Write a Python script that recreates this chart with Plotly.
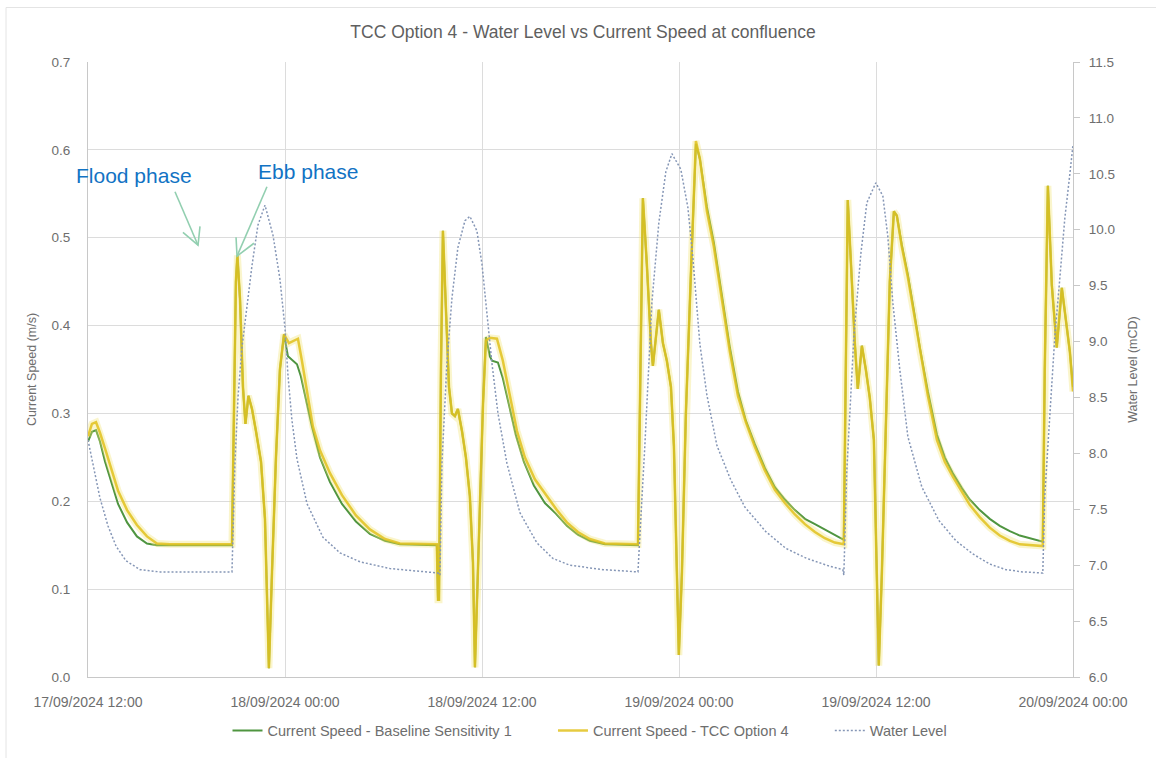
import pandas as pd
import plotly.graph_objects as go

# Time axis: hours elapsed since 17/09/2024 12:00
START = pd.Timestamp("2024-09-17 12:00")

# Water level (mCD)
wl_hours = [0.00, 0.37, 0.73, 1.22, 1.71, 2.31, 3.17, 4.38, 6.82, 8.77,
            8.95, 9.14, 9.38, 9.68, 9.99, 10.35, 10.78, 11.27, 11.69, 12.00,
            12.18, 12.42, 12.73, 13.34, 14.31, 15.35, 16.57, 18.39, 21.32, 21.44,
            21.56, 21.86, 22.17, 22.53, 22.96, 23.26, 23.69, 24.00, 24.30, 24.61,
            24.97, 25.52, 26.31, 27.34, 28.32, 29.35, 31.36, 33.50, 33.62, 33.92,
            34.35, 34.77, 35.20, 35.57, 36.11, 36.54, 36.85, 37.27, 37.70, 38.31,
            39.16, 40.01, 41.29, 42.51, 43.79, 45.19, 45.98, 46.04, 46.22, 46.65,
            47.08, 47.44, 47.99, 48.42, 48.72, 49.03, 49.45, 49.94, 50.79, 51.83,
            52.86, 53.90, 54.93, 55.91, 56.94, 58.16, 58.28, 58.59, 58.89, 59.20,
            59.50, 59.81, 60.00]
water_level = [8.12, 7.85, 7.60, 7.35, 7.17, 7.04, 6.96, 6.94, 6.94, 6.94,
               7.91, 8.51, 8.95, 9.30, 9.68, 10.04, 10.22, 9.95, 9.56, 9.12,
               8.70, 8.30, 7.95, 7.55, 7.25, 7.11, 7.03, 6.97, 6.93, 6.91,
               7.91, 8.80, 9.39, 9.84, 10.08, 10.12, 9.99, 9.69, 9.24, 8.80,
               8.36, 7.91, 7.47, 7.20, 7.06, 7.00, 6.96, 6.94, 7.27, 8.07,
               9.35, 10.06, 10.52, 10.68, 10.54, 10.20, 9.74, 8.98, 8.52, 8.07,
               7.76, 7.52, 7.30, 7.15, 7.06, 6.99, 6.96, 6.91, 7.84, 9.04,
               9.79, 10.24, 10.42, 10.30, 9.94, 9.34, 8.75, 8.15, 7.70, 7.40,
               7.22, 7.10, 7.01, 6.96, 6.94, 6.93, 7.62, 8.33, 9.04, 9.57,
               10.10, 10.50, 10.76]

# Current speed - TCC Option 4 (m/s)
tcc_hours = [0.00, 0.24, 0.49, 0.73, 1.04, 1.40, 1.83, 2.38, 2.98, 3.59,
             4.20, 4.99, 8.77, 8.89, 9.01, 9.10, 9.26, 9.44, 9.59, 9.77,
             9.99, 10.23, 10.54, 10.78, 10.90, 11.02, 11.21, 11.45, 11.69, 11.94,
             12.24, 12.55, 12.79, 13.03, 13.34, 13.70, 14.13, 14.74, 15.47, 16.32,
             17.17, 18.09, 19.00, 21.25, 21.32, 21.38, 21.50, 21.62, 21.80, 21.99,
             22.17, 22.35, 22.53, 22.78, 23.02, 23.26, 23.45, 23.57, 23.75, 23.87,
             24.06, 24.24, 24.48, 24.91, 25.27, 25.70, 26.13, 26.61, 27.22, 27.95,
             28.56, 29.17, 29.84, 30.57, 31.49, 33.50, 33.62, 33.80, 34.04, 34.29,
             34.41, 34.59, 34.77, 35.02, 35.26, 35.51, 35.69, 35.87, 35.99, 36.18,
             36.42, 36.72, 37.03, 37.27, 37.70, 38.12, 38.61, 39.10, 39.59, 40.07,
             40.62, 41.23, 41.84, 42.45, 43.06, 43.67, 44.28, 44.88, 45.49, 46.04,
             46.16, 46.28, 46.53, 46.71, 46.89, 47.14, 47.38, 47.62, 47.87, 48.05,
             48.17, 48.36, 48.60, 48.84, 49.09, 49.27, 49.57, 49.94, 50.30, 50.67,
             51.16, 51.71, 52.19, 52.68, 53.23, 53.71, 54.32, 54.93, 55.54, 56.15,
             56.76, 58.16, 58.28, 58.47, 58.71, 59.01, 59.32, 59.56, 59.81, 60.00]
tcc_speed = [0.274, 0.288, 0.290, 0.278, 0.260, 0.238, 0.212, 0.190, 0.173, 0.160,
             0.152, 0.151, 0.151, 0.300, 0.450, 0.480, 0.430, 0.330, 0.288, 0.320,
             0.305, 0.280, 0.245, 0.180, 0.090, 0.010, 0.120, 0.250, 0.350, 0.390,
             0.380, 0.383, 0.385, 0.360, 0.325, 0.285, 0.258, 0.232, 0.207, 0.184,
             0.168, 0.157, 0.152, 0.151, 0.088, 0.088, 0.350, 0.508, 0.420, 0.330,
             0.300, 0.297, 0.305, 0.280, 0.250, 0.206, 0.130, 0.011, 0.120, 0.206,
             0.310, 0.383, 0.386, 0.385, 0.360, 0.320, 0.280, 0.250, 0.225, 0.206,
             0.190, 0.176, 0.165, 0.157, 0.152, 0.151, 0.300, 0.545, 0.470, 0.380,
             0.354, 0.390, 0.418, 0.380, 0.360, 0.330, 0.263, 0.120, 0.025, 0.120,
             0.300, 0.457, 0.610, 0.590, 0.530, 0.490, 0.430, 0.370, 0.320, 0.290,
             0.262, 0.235, 0.213, 0.198, 0.185, 0.174, 0.165, 0.158, 0.153, 0.151,
             0.350, 0.543, 0.450, 0.380, 0.328, 0.377, 0.350, 0.318, 0.270, 0.120,
             0.013, 0.120, 0.300, 0.450, 0.530, 0.525, 0.490, 0.455, 0.415, 0.372,
             0.320, 0.270, 0.245, 0.228, 0.210, 0.196, 0.182, 0.170, 0.161, 0.155,
             0.151, 0.149, 0.350, 0.559, 0.446, 0.375, 0.443, 0.410, 0.370, 0.325]

# Current speed - Baseline Sensitivity 1 (m/s)
base_hours = [0.00, 0.24, 0.49, 0.73, 1.04, 1.40, 1.83, 2.38, 2.98, 3.59,
              4.20, 8.77, 8.89, 9.01, 9.10, 9.26, 9.44, 9.59, 9.77, 9.99,
              10.23, 10.54, 10.78, 10.90, 11.02, 11.21, 11.45, 11.69, 11.94, 12.18,
              12.48, 12.73, 12.97, 13.28, 13.64, 14.13, 14.74, 15.47, 16.32, 17.17,
              18.09, 19.00, 21.25, 21.32, 21.38, 21.50, 21.62, 21.80, 21.99, 22.17,
              22.35, 22.53, 22.78, 23.02, 23.26, 23.45, 23.57, 23.75, 23.87, 24.06,
              24.24, 24.48, 24.61, 24.97, 25.27, 25.64, 26.07, 26.55, 27.16, 27.83,
              28.50, 29.17, 29.84, 30.57, 31.49, 33.50, 33.62, 33.80, 34.04, 34.29,
              34.41, 34.59, 34.77, 35.02, 35.26, 35.51, 35.69, 35.87, 35.99, 36.18,
              36.42, 36.72, 37.03, 37.27, 37.70, 38.12, 38.61, 39.10, 39.59, 40.07,
              40.62, 41.23, 41.84, 42.45, 43.06, 43.67, 44.28, 44.88, 45.49, 46.04,
              46.16, 46.28, 46.53, 46.71, 46.89, 47.14, 47.38, 47.62, 47.87, 48.05,
              48.17, 48.36, 48.60, 48.84, 49.09, 49.27, 49.57, 49.94, 50.30, 50.67,
              51.16, 51.71, 52.19, 52.68, 53.23, 53.71, 54.32, 54.93, 55.54, 56.15,
              56.76, 57.37, 58.16, 58.28, 58.47, 58.71, 59.01, 59.32, 59.56, 59.81,
              60.00]
base_speed = [0.268, 0.279, 0.281, 0.268, 0.245, 0.222, 0.197, 0.176, 0.160, 0.152,
              0.150, 0.150, 0.300, 0.450, 0.480, 0.430, 0.330, 0.288, 0.320, 0.305,
              0.280, 0.245, 0.180, 0.090, 0.010, 0.120, 0.250, 0.350, 0.390, 0.365,
              0.360, 0.356, 0.342, 0.315, 0.285, 0.250, 0.222, 0.197, 0.177, 0.163,
              0.155, 0.151, 0.150, 0.088, 0.088, 0.350, 0.508, 0.420, 0.330, 0.300,
              0.297, 0.305, 0.280, 0.250, 0.206, 0.130, 0.011, 0.120, 0.206, 0.310,
              0.387, 0.365, 0.360, 0.358, 0.340, 0.310, 0.275, 0.245, 0.218, 0.198,
              0.186, 0.172, 0.162, 0.155, 0.151, 0.150, 0.300, 0.545, 0.470, 0.380,
              0.354, 0.390, 0.418, 0.380, 0.360, 0.330, 0.263, 0.120, 0.025, 0.120,
              0.300, 0.457, 0.607, 0.590, 0.535, 0.495, 0.435, 0.375, 0.325, 0.292,
              0.265, 0.238, 0.216, 0.202, 0.190, 0.180, 0.174, 0.168, 0.161, 0.156,
              0.350, 0.543, 0.450, 0.380, 0.328, 0.377, 0.350, 0.318, 0.270, 0.120,
              0.013, 0.120, 0.300, 0.450, 0.530, 0.525, 0.492, 0.458, 0.418, 0.375,
              0.325, 0.276, 0.250, 0.232, 0.215, 0.202, 0.190, 0.180, 0.172, 0.166,
              0.161, 0.158, 0.154, 0.350, 0.559, 0.446, 0.375, 0.443, 0.410, 0.370,
              0.330]

TITLE = "TCC Option 4 - Water Level vs Current Speed at confluence"
NAME_BASE = "Current Speed - Baseline Sensitivity 1"
NAME_TCC = "Current Speed - TCC Option 4"
NAME_WL = "Water Level"

GAP = "\u00a0" * 9  # spacing between legend entries


def to_time(hours):
    return START + pd.to_timedelta(hours, unit="h")


GREEN = "#4f9540"
YELLOW = "#e2c21e"
WL_COLOR = "#8596b6"
GRID = "#dcdcdc"
TEXT = "#6e6e6e"
FONT = "Liberation Sans, Arial, sans-serif"

fig = go.Figure()

fig.add_trace(go.Scatter(
    x=to_time(base_hours), y=base_speed, name=NAME_BASE + GAP, mode="lines",
    line=dict(color=GREEN, width=2)))
# soft halo under the TCC series
fig.add_trace(go.Scatter(
    x=to_time(tcc_hours), y=tcc_speed, mode="lines", showlegend=False,
    hoverinfo="skip", line=dict(color="rgba(240,225,110,0.35)", width=7)))
fig.add_trace(go.Scatter(
    x=to_time(tcc_hours), y=tcc_speed, name=NAME_TCC + GAP, mode="lines",
    opacity=0.85, line=dict(color=YELLOW, width=2.5)))
fig.add_trace(go.Scatter(
    x=to_time(wl_hours), y=water_level, name=NAME_WL, mode="lines",
    yaxis="y2", line=dict(color=WL_COLOR, width=1.5, dash="2px,2px")))

# plot-area geometry (pixels) used for placing the callouts
L, R, T, B = 88, 83, 62, 75
W, H = 1156, 758
PW, PH = W - L - R, H - T - B


def px(xp, yp):
    return (xp - L) / PW, (H - B - yp) / PH


def seg_path(points):
    pts = [px(*p) for p in points]
    return "M " + " L ".join(f"{a:.4f},{b:.4f}" for a, b in pts)


ARROW = "#92cfb0"
shapes = [
    # outer chart frame
    dict(type="rect", xref="paper", yref="paper",
         x0=px(6, 0)[0], x1=px(1170, 0)[0], y0=px(0, 790)[1], y1=px(0, 7)[1],
         line=dict(color="#e4e4e4", width=1), layer="below"),
    # flood phase arrow
    dict(type="path", xref="paper", yref="paper",
         path=seg_path([(175, 193), (198, 247)]), line=dict(color=ARROW, width=1.6)),
    dict(type="path", xref="paper", yref="paper",
         path=seg_path([(183, 234), (198, 247), (200, 228)]), line=dict(color=ARROW, width=1.6)),
    # ebb phase arrow
    dict(type="path", xref="paper", yref="paper",
         path=seg_path([(267, 188), (237, 258)]), line=dict(color=ARROW, width=1.6)),
    dict(type="path", xref="paper", yref="paper",
         path=seg_path([(236, 239), (237, 258), (254, 245)]), line=dict(color=ARROW, width=1.6)),
]

fx, fy = px(74, 177)
ex, ey = px(256, 173)
annotations = [
    dict(text="Flood phase", xref="paper", yref="paper", x=fx, y=fy,
         xanchor="left", yanchor="middle", showarrow=False,
         font=dict(family=FONT, size=21, color="#1273c4")),
    dict(text="Ebb phase", xref="paper", yref="paper", x=ex, y=ey,
         xanchor="left", yanchor="middle", showarrow=False,
         font=dict(family=FONT, size=21, color="#1273c4")),
]

fig.update_layout(
    width=W, height=H,
    margin=dict(l=L, r=R, t=T, b=B, pad=0),
    paper_bgcolor="white", plot_bgcolor="white",
    font=dict(family=FONT, size=13, color=TEXT),
    title=dict(text=TITLE, x=(583 / W), xanchor="center", y=1 - 32 / H, yanchor="middle",
               font=dict(family=FONT, size=17.5, color="#5f5f5f")),
    showlegend=True,
    legend=dict(orientation="h", x=(590 - L) / PW, xanchor="center",
                y=-(737 - 683) / PH, yanchor="middle",
                font=dict(size=14.5, color=TEXT), bgcolor="rgba(0,0,0,0)"),
    xaxis=dict(type="date", range=[START, START + pd.Timedelta(hours=60)],
               dtick=12 * 3600 * 1000, tick0=START, tickformat="%d/%m/%Y %H:%M",
               showgrid=True, gridcolor=GRID, gridwidth=1,
               showline=True, linecolor="#c8c8c8", ticks="", zeroline=False,
               ticklabelstandoff=12,
               tickfont=dict(size=14, color=TEXT)),
    yaxis=dict(range=[0, 0.7], dtick=0.1, tickformat=".1f",
               showgrid=True, gridcolor=GRID, zeroline=False,
               showline=True, linecolor="#c8c8c8", ticks="",
               ticklabelstandoff=14,
               title=dict(text="Current Speed (m/s)", standoff=12,
                          font=dict(size=12.5, color=TEXT)),
               tickfont=dict(size=13.5, color=TEXT)),
    yaxis2=dict(range=[6, 11.5], dtick=0.5, tickformat=".1f", overlaying="y",
                side="right", showgrid=False, zeroline=False,
                showline=True, linecolor="#c8c8c8", ticks="outside",
                ticklen=6, tickcolor="#c8c8c8", ticklabelstandoff=6,
                title=dict(text="Water Level (mCD)", standoff=14,
                           font=dict(size=12.5, color=TEXT)),
                tickfont=dict(size=13.5, color=TEXT)),
    shapes=shapes,
    annotations=annotations,
)

fig.write_html("out.html")
